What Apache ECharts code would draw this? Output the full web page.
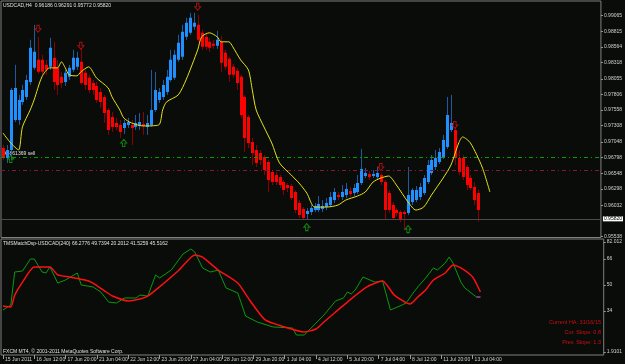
<!DOCTYPE html>
<html><head><meta charset="utf-8">
<script src="https://cdn.jsdelivr.net/npm/echarts@6/dist/echarts.min.js"></script>
<style>html,body{margin:0;padding:0;background:#0a0c0a;}#c{width:625px;height:364px;}</style>
</head><body><div id="c"></div>
<script>
// ---- data ----
const haOpen = [
.96952,.96792,.9692,.974,.974,.97688,.97768,.98008,.98232,.9836,
.9836,.9828,.98248,.98392,.98232,.98088,.98008,.98088,.982,.98248,
.98328,.98152,.98072,.97992,.97944,.97848,.97768,.9756,.97448,.97352,
.9732,.97272,.9732,.9732,.97288,.97304,.97336,.97288,.9732,.9756,
.9772,.97768,.97848,.9804,.98072,.9836,.98408,.98728,.98792,.98888,
.9892,.98792,.98728,.98648,.98616,.98584,.98648,.98472,.98376,.98248,
.98184,.98088,.97768,.97448,.97048,.9692,.96872,.96808,.96728,.96568,
.9652,.96488,.96408,.9636,.96344,.96248,.96072,.95976,.95896,.95928,
.9596,.9596,.95976,.96008,.9604,.9612,.962,.96168,.962,.96264,
.96232,.96248,.96392,.96504,.96536,.96504,.96488,.9652,.96408,.96232,
.9604,.9596,.95928,.95928,.95912,.96088,.9612,.96168,.96232,.96408,
.96552,.96648,.96728,.96808,.96968,.9724,.9724,.96792,.96792,.96648,
.96472,.96328,.96232];
const haClose = [
.96792,.9692,.9788,.97912,.9772,.9788,.9804,.98552,.98488,.98168,
.98168,.982,.98552,.98008,.9796,.97992,.98152,.98232,.98392,.98392,
.97992,.9796,.9788,.9788,.9772,.97688,.97512,.9724,.97288,.97288,
.97208,.97352,.97368,.97272,.97352,.97368,.97304,.97352,.9756,.9788,
.97848,.9796,.98088,.9836,.9844,.98632,.98808,.98952,.99032,.98952,
.9868,.98568,.98568,.98552,.98584,.9868,.98312,.98248,.9812,.9812,
.97992,.9748,.97112,.97032,.96872,.96712,.9676,.966,.9644,.96408,
.96408,.9636,.9628,.96312,.96152,.9596,.9588,.95832,.95944,.95992,
.96024,.96056,.96024,.96072,.96168,.96248,.96168,.96248,.96296,.96216,
.96312,.96392,.96616,.96552,.96488,.96536,.96552,.96408,.9596,.9596,
.95832,.95912,.958,.95896,.962,.9628,.9628,.96328,.96472,.9668,
.9676,.96792,.96888,.9708,.9748,.97352,.96792,.96568,.96488,.9636,
.96312,.9612,.9596];
const haHigh = [
.97,.97,.97912,.9828,.978,.9796,.9812,.9868,.9892,.98728,
.9844,.9836,.98712,.98648,.9836,.98168,.982,.9828,.9852,.98488,
.98552,.982,.9812,.9804,.98008,.97912,.978,.97592,.97528,.97432,
.974,.974,.97432,.974,.9748,.97512,.97528,.9748,.982,.98168,
.97912,.9804,.982,.9852,.9852,.9876,.9892,.99032,.99112,.99112,
.9908,.9884,.98792,.98712,.9868,.98824,.98744,.9852,.98408,.98296,
.98232,.9812,.978,.9748,.97112,.97,.9692,.9684,.9676,.966,
.96568,.9652,.9644,.96392,.96376,.9628,.9612,.96008,.95992,.9604,
.96072,.96184,.9612,.96152,.96248,.96312,.96248,.9636,.96392,.96328,
.96376,.9652,.96936,.96632,.96584,.966,.96648,.96552,.9644,.9628,
.96088,.95992,.9596,.9596,.96648,.96312,.96344,.96392,.9652,.9676,
.9684,.9692,.96952,.9716,.97768,.978,.97272,.9692,.9684,.9668,
.9652,.96408,.96291];
const haLow = [
.9676,.96712,.9676,.97368,.9732,.9764,.9772,.9796,.982,.98136,
.9812,.9812,.982,.9788,.978,.97912,.97944,.9804,.98168,.982,
.9796,.9788,.97832,.978,.97672,.97592,.97352,.9716,.97208,.9724,
.97112,.97176,.97272,.97,.9724,.9724,.9716,.9716,.97288,.97528,
.97672,.9772,.978,.98008,.9804,.98328,.9836,.9868,.9876,.9884,
.98648,.9852,.9852,.98488,.98536,.98536,.98168,.982,.98008,.98072,
.9788,.97432,.96888,.96952,.9668,.96648,.9668,.9652,.96248,.9636,
.9636,.96312,.962,.96248,.9612,.95912,.95832,.958,.958,.9588,
.95928,.95928,.95928,.9596,.96008,.96072,.9612,.9612,.96152,.96168,
.96184,.96216,.9636,.96472,.9644,.96472,.96456,.9636,.958,.95912,
.958,.95864,.95768,.9564,.9588,.9604,.96088,.9612,.962,.96376,
.9652,.966,.96696,.96776,.96936,.97208,.9668,.9652,.9644,.9628,
.9628,.9604,.95772];

// yellow moving average (shifted forward), bar index / price
const maIdx = [0,2,4,5,7,8,10,12,14,15,16,17,19,20,22,24,27,28,30,31,33,36,40,41,42,45,47,50,51,53,55,56,58,59,61,63,64,65,67,69,71,74,76,78,80,83,86,88,91,93,95,97,99,101,104,106,108,110,113,115,117,118,120,123,125];
const maVal = [.97192,.97032,.9692,.97288,.9756,.9772,.98088,.98232,.98232,.98328,.98232,.9812,.98104,.98168,.98248,.98072,.97912,.97768,.9756,.97432,.97352,.97304,.9732,.9756,.97688,.978,.9804,.9852,.98728,.98792,.98728,.98648,.98648,.98568,.9836,.982,.9788,.9756,.97288,.97032,.96712,.9652,.96392,.96232,.96008,.96008,.9604,.9612,.96184,.96248,.96408,.96472,.96504,.9636,.96088,.9596,.96008,.962,.96472,.9668,.97032,.97128,.97032,.96648,.96248];

// lower indicator
const redIdx = [0,2,3,5,8,12,14,17,21,23,26,28,32,35,37,40,45,49,51,55,60,63,67,72,77,80,82,85,88,93,97,100,104,106,108,110,113,115,117,120,122];
const redVal = [37.1,36.5,43.8,51.8,61.1,61.1,56.2,54.9,53.1,51.2,46.3,43.2,40.2,41.4,43.2,48.8,59.2,68.5,67.2,59.2,51.2,40.8,28.5,24.2,21.1,22.9,27.2,33.4,39.5,48.8,52.5,43.8,38.3,42.6,46.9,53.1,57.4,62.3,60.5,54.9,45.7];
const greenIdx = [0,2,3,5,7,8,10,11,12,14,16,19,20,23,25,27,29,31,34,35,37,39,40,43,46,48,49,51,53,55,57,60,62,65,69,74,75,77,80,82,85,87,88,89,90,92,95,97,99,102,103,105,106,108,110,111,113,114,115,117,118,121,122];
const greenVal = [34.6,37.7,58.0,58.6,66.0,66.0,58.0,57.4,61.1,51.2,53.1,57.4,50.0,48.8,45.7,39.5,38.9,42.0,42.0,43.8,43.2,56.2,54.3,59.2,69.1,72.2,70.3,60.5,58.0,59.2,48.2,45.1,30.9,27.2,24.2,23.5,19.2,19.2,26.6,31.5,40.2,42.0,45.7,44.5,46.9,54.9,51.8,52.5,34.6,37.7,38.9,45.7,48.8,54.3,60.5,59.2,63.5,67.2,63.5,51.8,48.2,42.6,42.6];
const magentaIdx = [121,122];
const magentaVal = [42.6,42.6];

// signal arrows
const sellIdx = [9,20,50,97,116];
const sellVal = [.98856,.98584,.99208,.96648,.9732];
const buyIdx = [2,31,78,104];
const buyVal = [.96776,.97032,.95688,.95656];

// levels
const orderLevel = 0.96798;
const redLevel = 0.9660;
const bidLevel = 0.95820;

// tick labels
const priceTickLabels = ['0.99065','0.98815','0.98564','0.98318','0.98055','0.97806','0.97558','0.97308','0.97048','0.96798','0.96548','0.96298','0.96032','0.95538'];
const lowTickLabels = ['82.012','66','50','34','1.9101'];
const lowTickMid = [66,50,34];
const xTickLabels = ['15 Jun 2011','16 Jun 12:00','17 Jun 20:00','21 Jun 04:00','22 Jun 12:00','23 Jun 20:00','27 Jun 04:00','28 Jun 12:00','29 Jun 20:00','1 Jul 04:00','4 Jul 12:00','5 Jul 20:00','7 Jul 04:00','8 Jul 12:00','11 Jul 20:00','13 Jul 04:00'];

// H4 bar times (categories), weekends skipped
const categories = [];
(function(){
  let t = new Date(2011,5,15,4,0,0);
  while (categories.length < 154) {
    const d = t.getDay();
    if (d !== 0 && d !== 6) categories.push(t.getFullYear()+'.'+(t.getMonth()+1)+'.'+t.getDate()+' '+t.getHours()+':00');
    t = new Date(t.getTime() + 4*3600*1000);
  }
})();

// ---- chart ----
const FONT = '"Liberation Sans", Arial, sans-serif';
const candleRows = haOpen.map((o,i)=>[i,o,haClose[i],haLow[i],haHigh[i]]);
const pairs = (a,b)=>a.map((v,i)=>[v,b[i]]);

function renderCandle(params, api){
  const i = api.value(0), o = api.value(1), c = api.value(2), l = api.value(3), h = api.value(4);
  const po = api.coord([i,o]), pc = api.coord([i,c]), pl = api.coord([i,l]), ph = api.coord([i,h]);
  const up = c >= o;
  const cx = Math.round(po[0]);
  const top = Math.min(po[1],pc[1]);
  const hh = Math.max(1, Math.abs(po[1]-pc[1]));
  return {type:'group', children:[
    {type:'line', shape:{x1:cx+0.5,y1:ph[1],x2:cx+0.5,y2:pl[1]}, style:{stroke: up?'#1d5a9e':'#8b0000', lineWidth:1}},
    {type:'rect', shape:{x:cx-1,y:top,width:3,height:hh}, style:{fill: up?'#1e90ff':'#ff0000'}}
  ]};
}

const ARROW_DOWN = 'path://M3,0 L7,0 L7,5 L10,5 L5,10 L0,5 L3,5 Z';
const ARROW_UP = 'path://M5,0 L10,5 L7,5 L7,10 L3,10 L3,5 L0,5 Z';

const lowMin = 6.92, lowMax = 78.31;
const lowCustom = [lowMax-1.9].concat(lowTickMid,[lowMin+1.8]);
const priceCustom = priceTickLabels.map(Number);
const xLabelShow = (idx)=> idx % 8 === 0 && idx/8 < xTickLabels.length;
const priceFmt = (v)=>{ let best=0, d=1e9; priceCustom.forEach((p,k)=>{ const e=Math.abs(p-v); if(e<d){d=e;best=k;} }); return priceTickLabels[best]; };
const lowFmt = (v)=>{ let best=0, d=1e9; lowCustom.forEach((p,k)=>{ const e=Math.abs(p-v); if(e<d){d=e;best=k;} }); return lowTickLabels[best]; };

const chart = echarts.init(document.getElementById('c'), null, {renderer:'canvas'});
chart.setOption({
  backgroundColor:'#0a0c0a',
  animation:false,
  grid:[
    {left:1, right:19, top:1, height:236.5, show:true, borderColor:'#7f7f7f', borderWidth:1, backgroundColor:'transparent'},
    {left:1, right:19, top:239, height:116, show:true, borderColor:'#7f7f7f', borderWidth:1, backgroundColor:'transparent'}
  ],
  xAxis:[
    {type:'category', gridIndex:0, data:categories, boundaryGap:true, show:false},
    {type:'category', gridIndex:1, data:categories, boundaryGap:true,
     axisLine:{show:false},
     axisTick:{show:true, interval:(i)=>xLabelShow(i), alignWithLabel:true, length:4, lineStyle:{color:'#9a9a9a'}},
     axisLabel:{interval:(i)=>xLabelShow(i), formatter:(v,i)=> xTickLabels[i/8] || '', align:'left', color:'#d0d0d0', fontSize:5, fontFamily:FONT, margin:2, padding:[0,0,0,2]},
     splitLine:{show:false}}
  ],
  yAxis:[
    {type:'value', gridIndex:0, position:'right', min:0.95522, max:0.99300,
     axisLine:{show:false}, splitLine:{show:false},
     axisTick:{show:true, length:2, customValues: priceCustom, lineStyle:{color:'#9a9a9a'}},
     axisLabel:{show:true, customValues: priceCustom, formatter:priceFmt, color:'#d0d0d0', fontSize:5, fontFamily:FONT, margin:3, showMinLabel:true, showMaxLabel:true}},
    {type:'value', gridIndex:1, position:'right', min:lowMin, max:lowMax,
     axisLine:{show:false}, splitLine:{show:false},
     axisTick:{show:true, length:2, customValues:lowCustom, lineStyle:{color:'#9a9a9a'}},
     axisLabel:{show:true, customValues:lowCustom, formatter:lowFmt, color:'#d0d0d0', fontSize:5, fontFamily:FONT, margin:3, showMinLabel:true, showMaxLabel:true}}
  ],
  series:[
    {type:'line', xAxisIndex:0, yAxisIndex:0, data:[], silent:true,
     markLine:{symbol:'none', silent:true, animation:false, precision:6,
       data:[
         {yAxis:orderLevel, lineStyle:{color:'#00a000', width:1, type:[4,3,1,3]}, label:{show:false}},
         {yAxis:redLevel, lineStyle:{color:'#8b1538', width:1, type:[4,3,1,3]}, label:{show:false}},
         {yAxis:bidLevel, lineStyle:{color:'#4a4a52', width:1, type:'solid'},
          label:{show:true, position:'end', formatter:'0.95820', color:'#000', backgroundColor:'#ffffff', fontSize:5, fontFamily:FONT, padding:[0,1,0,1], distance:2}}
       ]}},
    {type:'custom', xAxisIndex:0, yAxisIndex:0, renderItem:renderCandle, data:candleRows, encode:{x:0,y:[1,2,3,4]}, clip:true},
    {type:'line', xAxisIndex:0, yAxisIndex:0, data:pairs(maIdx,maVal), showSymbol:false, smooth:0.25,
     lineStyle:{color:'#e6e21a', width:1}, z:5},
    {type:'scatter', xAxisIndex:0, yAxisIndex:0, data:pairs(sellIdx,sellVal), symbol:ARROW_DOWN, symbolSize:[6,7],
     itemStyle:{color:'rgba(0,0,0,0)', borderColor:'#d01010', borderWidth:1}, z:6},
    {type:'scatter', xAxisIndex:0, yAxisIndex:0, data:pairs(buyIdx,buyVal), symbol:ARROW_UP, symbolSize:[6,7],
     itemStyle:{color:'rgba(0,0,0,0)', borderColor:'#10a010', borderWidth:1}, z:6},
    {type:'line', xAxisIndex:1, yAxisIndex:1, data:pairs(greenIdx,greenVal), showSymbol:false,
     lineStyle:{color:'#0a9a0a', width:1}},
    {type:'line', xAxisIndex:1, yAxisIndex:1, data:pairs(redIdx,redVal), showSymbol:false, smooth:0.2,
     lineStyle:{color:'#ff1010', width:1.5}},
    {type:'line', xAxisIndex:1, yAxisIndex:1, data:pairs(magentaIdx,magentaVal), showSymbol:false,
     lineStyle:{color:'#e020e0', width:1}}
  ],
  graphic:[
    {type:'text', x:3, y:5.5, style:{text:'USDCAD,H4  0.96186 0.96291 0.95772 0.95820', fill:'#e0e0e0', font:'5px '+FONT, verticalAlign:'middle'}},
    {type:'text', x:4, y:153.5, style:{text:'#4861369 sell', fill:'#e0e0e0', font:'5px '+FONT, verticalAlign:'middle'}},
    {type:'text', x:3, y:243.5, style:{text:'TMSMatchDsp-USDCAD(240) 66.2776 49.7394 20.2012 41.5259 45.5162', fill:'#e0e0e0', font:'5px '+FONT, verticalAlign:'middle'}},
    {type:'text', x:3, y:351.5, style:{text:'FXCM MT4, © 2001-2011 MetaQuotes Software Corp.', fill:'#e0e0e0', font:'5px '+FONT, verticalAlign:'middle'}},
    {type:'text', x:601, y:322.5, style:{text:'Current HA: 31/16/15', fill:'#c81010', font:'5.5px '+FONT, align:'right', verticalAlign:'middle'}},
    {type:'text', x:601, y:332.5, style:{text:'Cur. Slope: 0.8', fill:'#d01010', font:'5.5px '+FONT, align:'right', verticalAlign:'middle'}},
    {type:'text', x:601, y:342.5, style:{text:'Prev. Slope: 1.3', fill:'#d01010', font:'5.5px '+FONT, align:'right', verticalAlign:'middle'}}
  ]
});
</script>
</body></html>
